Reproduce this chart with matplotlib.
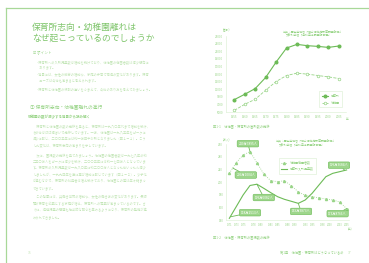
import matplotlib
matplotlib.use("Agg")
import matplotlib.pyplot as plt

plt.rcParams['font.family'] = ['Noto Sans CJK JP', 'DejaVu Sans']

GREEN = '#6dbb57'
LIGHT = '#98d487'
PALE = '#c2e5b6'
BOX = '#9ed68c'

# fig 1-1: number of facilities
years_a = [1955, 1960, 1965, 1970, 1975, 1980, 1985, 1990, 1995, 2000, 2005]
nursery_a = [8260, 9670, 11170, 14080, 18130, 21830, 22800, 22450, 22270, 22000, 22360]
kinder_a = [5440, 7030, 8350, 10730, 13020, 14600, 15220, 14960, 14600, 14250, 13810]
yticks_a = [5000, 7000, 9000, 11000, 13000, 15000, 17000, 19000, 21000, 23000, 25000]

# fig 1-2: number of children (10k persons)
years_b = [1971, 1973, 1975, 1977, 1979, 1981, 1983, 1985, 1987, 1989,
           1991, 1993, 1995, 1997, 1999, 2001, 2003, 2005]
kinder_b = [213.7, 230.5, 242.6, 248.0, 230.5, 212.6, 202.1, 200.5, 202.0, 194.0,
            184.5, 178.8, 176.8, 175.0, 173.2, 171.6, 168.4, 158.0]
nursery_b = [142.6, 161.0, 179.5, 194.5, 196.5, 190.0, 183.2, 176.8, 172.6, 169.5,
             166.3, 171.6, 182.1, 195.3, 208.4, 213.7, 216.3, 219.0]
xticks_b = [1971, 1973, 1975, 1978, 1980, 1983, 1985, 1988, 1990, 1993,
            1995, 1998, 2000, 2003, 2005]
yticks_b = [140, 160, 180, 200, 220, 240, 260]

# callouts: text, point on the line, label position
callouts = [
    ('249万7895人', (1977, 248.0), (1976.4, 260.5)),
    ('209万1004人', (1972, 222.0), (1975.8, 211.0)),
    ('199万6082人', (1979, 196.5), (1981.0, 175.5)),
    ('118万2513人', (1971.3, 145.0), (1977.0, 151.5)),
    ('159万3873人', (1991, 166.3), (1991.8, 153.5)),
    ('199万3684人', (2004.5, 218.5), (2002.8, 226.5)),
    ('173万8766人', (2005, 158.0), (2002.4, 150.0)),
]

body = [
    '　保育所と幼稚園の数の推移を見ると、保育所は一九八〇年代まで増加を続け、',
    'その後はほぼ横ばいで推移しています。一方、幼稚園は一九八五年をピークに',
    '減少に転じ、二〇〇五年には約一万四千か所となりました（図１－１）。こう',
    'した変化は、保育所志向の高まりを示しています。',
    None,
    '　次に、園児数の推移を見てみましょう。幼稚園の在園者数は一九七八年の約',
    '二五〇万人をピークに減少を続け、二〇〇五年には約一七四万人となっていま',
    'す。保育所の入所児童数は一九八〇年に約二〇〇万人となった後いったん減少',
    'しましたが、一九九四年を底に再び増加に転じています（図１－２）。少子化',
    'が進むなかで、保育所の利用者は増え続けており、幼稚園との差は年々縮まっ',
    'てきています。',
    None,
    '　この背景には、共働き世帯の増加や、女性の働き方の変化があります。長時',
    '間の保育を必要とする家庭が増え、保育所への需要が高まっているのです。さ',
    'らに、待機児童の問題も社会的な関心を集めるようになり、保育所の整備が進',
    'められてきました。',
]

points = [
    '・保育所への入所児童数は増加を続けており、幼稚園の在園者数は減少傾向に',
    '　あります。',
    '・背景には、女性の就労の増加や、家庭の子育て環境の変化があります。保育',
    '　ニーズは今後も高まると考えられます。',
    '・保育所と幼稚園の役割の違いをふまえて、今後のあり方を考えてみましょう。',
]

fig = plt.figure(figsize=(3.69, 2.63), dpi=100)
fig.patch.set_facecolor('white')

# page layer in pixel coordinates
page = fig.add_axes([0, 0, 1, 1], zorder=0)
page.set_xlim(0, 369)
page.set_ylim(263, 0)
page.axis('off')
page.plot([5.5, 369], [8, 8], color='#a8d898', lw=0.9)
page.plot([5.8, 5.8], [8, 263], color='#a8d898', lw=0.9)

page.text(32, 27.5, '保育所志向・幼稚園離れは', fontsize=6.3, color='#7fc56b', va='center')
page.text(32, 38.5, 'なぜ起こっているのでしょうか', fontsize=6.3, color='#7fc56b', va='center')
page.text(33, 52, '☑ ポイント', fontsize=2.6, color=LIGHT, va='center')
for i, y in enumerate([62.7, 67.5, 75, 81, 89]):
    page.text(36, y, points[i], fontsize=2.3, color=PALE, va='center')
page.text(30, 108, '① 保育所志向・幼稚園離れの進行', fontsize=3.4, color=LIGHT, va='center')
page.text(28, 117, '幼稚園の数が減少する背景から読み解く', fontsize=2.5, color=LIGHT,
          va='center', fontweight='bold')
y = 126.7
for line in body:
    if line is None:
        y += 2.8
        continue
    page.text(33, y, line, fontsize=2.3, color=PALE, va='center')
    y += 6.5
page.text(28, 253, '16', fontsize=2.4, color=PALE, va='center')
page.text(280, 253, '第1章　幼稚園・保育所はどうなっているの', fontsize=2.3, color=LIGHT, va='center')
page.text(348, 253, '17', fontsize=2.4, color=PALE, va='center')

page.text(283, 31, '出典：厚生労働省「社会福祉施設等調査報告」', fontsize=2.1, color=LIGHT, va='center')
page.text(286, 35.5, '文部科学省「学校基本調査報告書」', fontsize=2.1, color=LIGHT, va='center')
page.text(213, 127, '図1-1　幼稚園・保育所の箇所数の推移', fontsize=2.3, color=LIGHT, va='center')
page.text(276, 140.5, '出典：厚生労働省「社会福祉施設等調査報告」', fontsize=2.1, color=LIGHT, va='center')
page.text(279, 145.5, '文部科学省「学校基本調査報告書」', fontsize=2.1, color=LIGHT, va='center')
page.text(213, 238, '図1-2　幼稚園・保育所の園児数の推移', fontsize=2.3, color=LIGHT, va='center')


def style_axis(ax):
    for s in ['top', 'right']:
        ax.spines[s].set_visible(False)
    for s in ['left', 'bottom']:
        ax.spines[s].set_color('#d8eecf')
        ax.spines[s].set_linewidth(0.4)
    ax.tick_params(length=0, labelsize=2.1, labelcolor=LIGHT, pad=2)
    ax.set_facecolor('none')


# fig 1-1
ax1 = fig.add_axes([226 / 369, 1 - 112 / 263, 120 / 369, 76 / 263], zorder=2)
ax1.plot(years_a, nursery_a, color=GREEN, lw=0.8, marker='o', ms=1.9, label='保育所')
ax1.plot(years_a, kinder_a, color=LIGHT, lw=0.6, ls='--', marker='o', ms=1.9,
         mfc='white', mec=LIGHT, mew=0.5, label='幼稚園')
ax1.set_xlim(1951, 2008.5)
ax1.set_ylim(5000, 25000)
ax1.set_xticks(years_a)
ax1.set_yticks(yticks_a)
style_axis(ax1)
ax1.text(-0.03, 1.06, '(箇所)', transform=ax1.transAxes, fontsize=2.0, color=LIGHT)
ax1.text(1.0, -0.06, '年', transform=ax1.transAxes, fontsize=2.0, color=LIGHT, va='top')
leg1 = ax1.legend(loc='upper left', bbox_to_anchor=(0.765, 0.29), fontsize=2.2,
                  frameon=True, handlelength=2.2, borderpad=0.8, labelspacing=0.9,
                  fancybox=False)
leg1.get_frame().set_edgecolor('#cfe9c4')
leg1.get_frame().set_linewidth(0.4)
for t in leg1.get_texts():
    t.set_color(LIGHT)

# fig 1-2
ax2 = fig.add_axes([226 / 369, 1 - 220 / 263, 123 / 369, 76 / 263], zorder=2)
ax2.plot(years_b, kinder_b, color=LIGHT, lw=0.6, ls=':', marker='^', ms=1.5,
         mfc=LIGHT, mec=LIGHT, label='幼稚園在園者数')
ax2.plot(years_b, nursery_b, color=GREEN, lw=0.8, label='保育所入所児童数')
ax2.set_xlim(1970.04, 2005.7)
ax2.set_ylim(140, 260)
ax2.set_xticks(xticks_b)
ax2.set_yticks(yticks_b)
style_axis(ax2)
ax2.tick_params(axis='x', labelsize=1.8)
ax2.text(-0.03, 1.03, '(万人)', transform=ax2.transAxes, fontsize=2.0, color=LIGHT)
ax2.text(0.99, -0.09, '(年)', transform=ax2.transAxes, fontsize=1.9, color=LIGHT, va='top')
leg2 = ax2.legend(loc='upper left', bbox_to_anchor=(0.415, 0.83), fontsize=2.2,
                  frameon=True, handlelength=2.0, borderpad=0.8, labelspacing=0.8,
                  fancybox=False)
leg2.get_frame().set_edgecolor('#cfe9c4')
leg2.get_frame().set_linewidth(0.4)
for t in leg2.get_texts():
    t.set_color(LIGHT)

for text, xy, xytext in callouts:
    ax2.annotate(text, xy=xy, xytext=xytext, textcoords='data', fontsize=2.3,
                 color='white', ha='center', va='center',
                 bbox=dict(boxstyle='round,pad=0.4', fc=BOX, ec=GREEN, lw=0.4),
                 arrowprops=dict(arrowstyle='-', color=GREEN, lw=0.6,
                                 shrinkA=0, shrinkB=0),
                 annotation_clip=False)

fig.savefig('out.png', dpi=100)
